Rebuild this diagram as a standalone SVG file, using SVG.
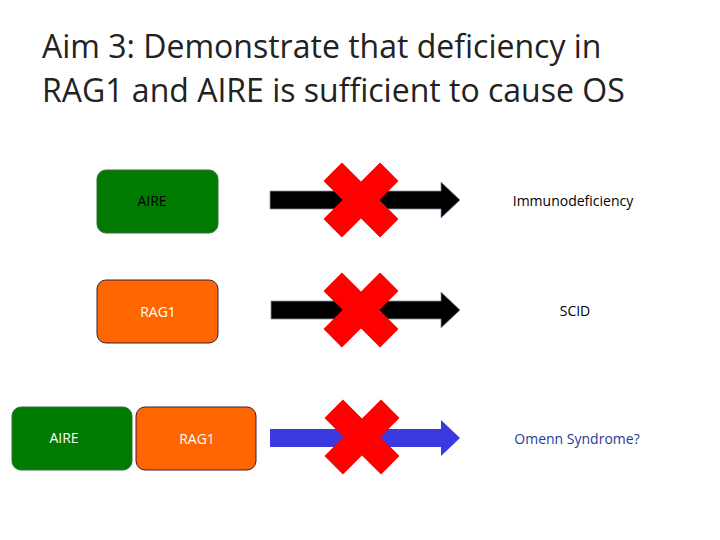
<svg xmlns="http://www.w3.org/2000/svg" width="720" height="540" viewBox="0 0 720 540">
<style>
text{font-family:"Open Sans","Liberation Sans",sans-serif}
.t{font-size:32px;fill:#222}
.l{font-size:14px}
.g{fill:#007a00;stroke:#3a6a3a;stroke-width:1}
.o{fill:#ff6600;stroke:#3a1a40;stroke-width:1}
.x{fill:#ff0000}
</style>
<rect width="720" height="540" fill="#fff"/>
<text class="t" x="42" y="58">Aim 3: Demonstrate that deficiency in</text>
<text class="t" x="42" y="102">RAG1 and AIRE is sufficient to cause OS</text>
<g id="aire1"><rect class="g" x="97" y="170" width="121" height="63" rx="9"/><text class="l" x="152" y="206" text-anchor="middle" fill="#000">AIRE</text></g>
<g id="rag1"><rect class="o" x="97" y="280" width="121" height="63" rx="9"/><text class="l" x="158" y="317" text-anchor="middle" fill="#fff">RAG1</text></g>
<g id="aire2"><rect class="g" x="12" y="407" width="120" height="63" rx="9"/><text class="l" x="64" y="443" text-anchor="middle" fill="#fff">AIRE</text></g>
<g id="rag2"><rect class="o" x="136" y="407" width="120" height="63" rx="9"/><text class="l" x="197" y="444" text-anchor="middle" fill="#fff">RAG1</text></g>
<g id="connectors">
<polygon points="270,191 441,191 441,182 460,200 441,218 441,209 270,209" fill="#000" stroke="#7f93a8" stroke-width="0.8"/>
<polygon points="271,301 441,301 441,292 460,310 441,328 441,319 271,319" fill="#000" stroke="#7f93a8" stroke-width="0.8"/>
<polygon points="270,429 441,429 441,420 460,438 441,456 441,447 270,447" fill="#3a3ae0"/>
</g>
<g id="crosses">
<g transform="translate(361,200)"><rect class="x" x="-40" y="-13" width="80" height="26" transform="rotate(45)"/><rect class="x" x="-40" y="-13" width="80" height="26" transform="rotate(-45)"/></g>
<g transform="translate(361,310)"><rect class="x" x="-40" y="-13" width="80" height="26" transform="rotate(45)"/><rect class="x" x="-40" y="-13" width="80" height="26" transform="rotate(-45)"/></g>
<g transform="translate(362,437)"><rect class="x" x="-40" y="-13" width="80" height="26" transform="rotate(45)"/><rect class="x" x="-40" y="-13" width="80" height="26" transform="rotate(-45)"/></g>
</g>
<g id="out1"><text class="l" x="573" y="206" text-anchor="middle" fill="#000">Immunodeficiency</text></g>
<g id="out2"><text class="l" x="575" y="316" text-anchor="middle" fill="#000">SCID</text></g>
<g id="out3"><text class="l" x="577" y="444" text-anchor="middle" fill="#1f3a9a">Omenn Syndrome?</text></g>
</svg>
